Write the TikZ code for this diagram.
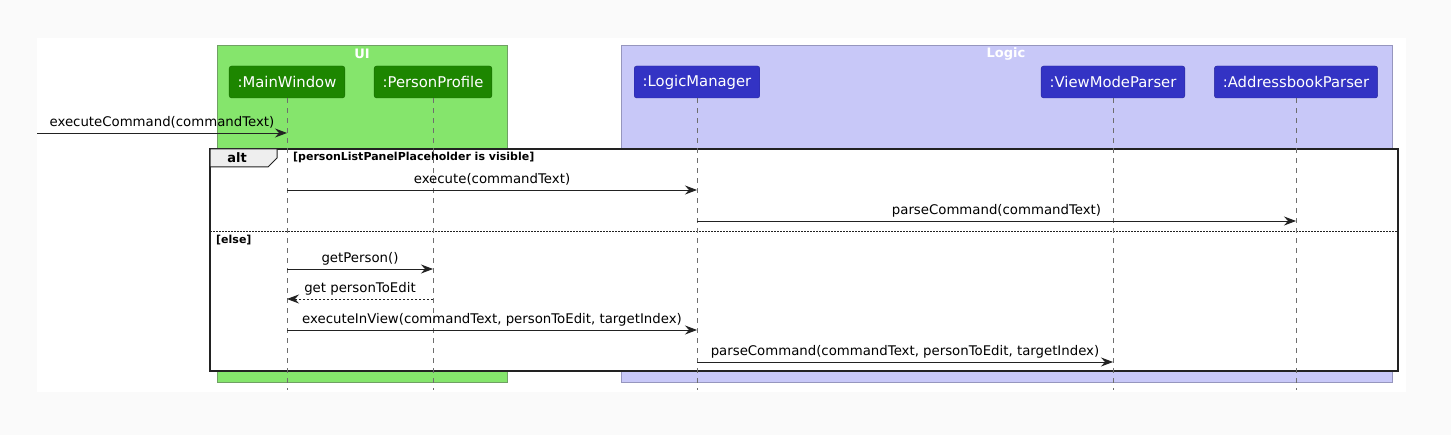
\documentclass[tikz,border=0pt]{standalone}
\usepackage{fontspec}
\setmainfont{DejaVu Sans}
\usetikzlibrary{arrows.meta}
\definecolor{pagebg}{RGB}{250,250,250}
\definecolor{uifill}{RGB}{133,229,108}
\definecolor{uiline}{RGB}{112,160,100}
\definecolor{uidark}{RGB}{29,134,0}
\definecolor{logicfill}{RGB}{200,200,248}
\definecolor{logicline}{RGB}{150,150,190}
\definecolor{logicdark}{RGB}{51,51,196}
\definecolor{msgcol}{RGB}{34,34,34}
\definecolor{lifecol}{RGB}{110,110,110}
\definecolor{tabfill}{RGB}{238,238,238}

\begin{document}
\begin{tikzpicture}[x=1pt, y=-1pt,
      every node/.style = {inner sep=0pt, font=\fontsize{13.3}{15}\selectfont},
      groupbox/.style = {draw=#1, line width=0.7pt},
      grouplbl/.style = {text=white, font=\fontsize{13}{15}\selectfont\bfseries},
      part/.style = {draw=#1!80!black, fill=#1, rounded corners=2.5pt, text=white,
                     font=\fontsize{14.8}{17}\selectfont, minimum height=32pt, inner xsep=8.5pt},
      lifeline/.style = {draw=lifecol, line width=0.6pt, dash pattern=on 5pt off 5pt},
      altframe/.style = {draw=msgcol, line width=1.5pt},
      guard/.style = {anchor=west, font=\fontsize{11}{13}\selectfont\bfseries},
      msg/.style = {draw=msgcol, line width=0.9pt, -{Stealth[length=12pt, width=9pt, inset=4pt]}},
      ret/.style = {msg, dash pattern=on 2pt off 2pt},
      lbl/.style = {anchor=base, yshift=6pt}
      ]
      \useasboundingbox (0,0) rectangle (1451,435);
      \fill[pagebg] (0,0) rectangle (1451,435);
      \fill[white] (37,38) rectangle (1406,392);

      \draw[groupbox=uiline, fill=uifill] (217,45) rectangle (507,382);
      \node[grouplbl] (uilbl) at (362,54) {UI};
      \draw[groupbox=logicline, fill=logicfill] (621,45) rectangle (1392,382);
      \node[grouplbl] (logiclbl) at (1006,54) {Logic};

      \node[part=uidark] (mw) at (287,82) {:MainWindow};
      \node[part=uidark] (pp) at (433,82) {:PersonProfile};
      \node[part=logicdark] (lm) at (697,82) {:LogicManager};
      \node[part=logicdark] (vmp) at (1113,82) {:ViewModeParser};
      \node[part=logicdark] (ap) at (1296,82) {:AddressbookParser};

      \draw[altframe, fill=white] (210,149) rectangle (1398,371);
      \draw[altframe, line width=1pt, fill=tabfill] (210,149) -- (277,149) -- (277,158) -- (268,167) -- (210,167) -- cycle;
      \node[font=\fontsize{13}{15}\selectfont\bfseries] (altlbl) at (237,158) {alt};
      \node[guard] (guard1) at (293,157) {[personListPanelPlaceholder is visible]};
      \draw[msgcol, line width=0.8pt, dash pattern=on 1.5pt off 1.5pt] (210,231) -- (1398,231);
      \node[guard] (guard2) at (216,240) {[else]};

      \coordinate (bottom) at (0,390);
      \foreach \p in {mw,pp,lm,vmp,ap}
            \draw[lifeline] (\p.south) -- (\p |- bottom);

      \coordinate (start) at (37,133);
      \coordinate (r2) at (0,190);
      \coordinate (r3) at (0,221);
      \coordinate (r4) at (0,269);
      \coordinate (r5) at (0,299);
      \coordinate (r6) at (0,330);
      \coordinate (r7) at (0,362);

      \draw[msg] (start) -- node[lbl] (m1) {executeCommand(commandText)} (mw |- start);
      \draw[msg] (mw |- r2) -- node[lbl] (m2) {execute(commandText)} (lm |- r2);
      \draw[msg] (lm |- r3) -- node[lbl] (m3) {parseCommand(commandText)} (ap |- r3);
      \draw[msg] (mw |- r4) -- node[lbl] (m4) {getPerson()} (pp |- r4);
      \draw[ret] (pp |- r5) -- node[lbl] (m5) {get personToEdit} (mw |- r5);
      \draw[msg] (mw |- r6) -- node[lbl] (m6) {executeInView(commandText, personToEdit, targetIndex)} (lm |- r6);
      \draw[msg] (lm |- r7) -- node[lbl] (m7) {parseCommand(commandText, personToEdit, targetIndex)} (vmp |- r7);
\end{tikzpicture}
\end{document}
